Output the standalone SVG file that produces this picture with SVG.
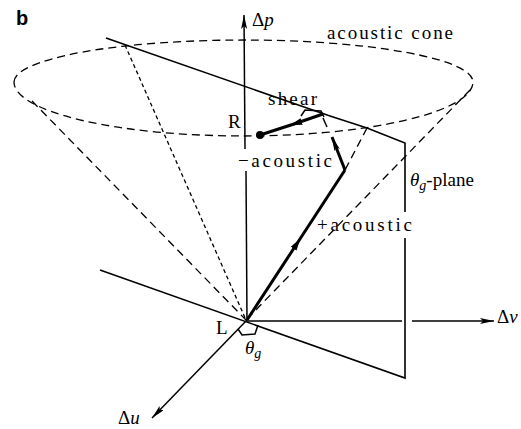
<svg xmlns="http://www.w3.org/2000/svg" width="521" height="429" viewBox="0 0 521 429">
<style>
.ax{stroke:#000;stroke-width:1.5;fill:none}
.pl{stroke:#000;stroke-width:1.6;fill:none}
.th{stroke:#000;stroke-width:3;fill:none}
.da{stroke:#000;stroke-width:1.3;fill:none;stroke-dasharray:8,5}
.dd{stroke:#000;stroke-width:1.3;fill:none;stroke-dasharray:4,3}
text{font-family:"Liberation Serif","DejaVu Serif",serif;fill:#000}
.lb{font-size:19px}
.it{font-style:italic}
</style>
<defs>
<marker id="ah" viewBox="0 0 14 6" refX="14" refY="3" markerUnits="userSpaceOnUse" markerWidth="14" markerHeight="6" orient="auto">
<path d="M0,0 L14,3 L0,6 L3,3 z" fill="#000"/>
</marker>
<marker id="am" viewBox="0 0 12 7" refX="8" refY="3.5" markerUnits="userSpaceOnUse" markerWidth="12" markerHeight="7" orient="auto">
<path d="M0,0 L12,3.5 L0,7 z" fill="#000"/>
</marker>
</defs>

<g id="cone">
<path class="da" d="M14,82 A229.5,42 0 0 1 473,82 A229.5,54 0 0 1 14,82 Z"/>
<line class="da" x1="32" y1="101" x2="246" y2="320"/>
<line class="dd" x1="125" y1="45" x2="246" y2="320"/>
<line class="da" x1="470" y1="90" x2="246" y2="320"/>
<line class="da" x1="367" y1="128" x2="345" y2="170"/>
</g>

<g id="plane">
<polyline class="pl" points="106,38 330,116 367,128 405,143 405,212"/>
<polyline class="pl" points="405,238 405,378 100,270"/>
</g>

<g id="axes">
<line class="ax" x1="245" y1="149" x2="244" y2="15" marker-end="url(#ah)"/>
<line class="ax" x1="247" y1="320" x2="246" y2="171"/>
<line class="ax" x1="247" y1="321" x2="402" y2="321"/>
<line class="ax" x1="412" y1="321" x2="494" y2="321" marker-end="url(#ah)"/>
<line class="ax" x1="247" y1="320" x2="152" y2="418" marker-end="url(#ah)"/>
</g>

<g id="vectors">
<polyline class="th" points="247,320 298,242 345,170" marker-mid="url(#am)"/>
<line class="th" x1="345" y1="170" x2="332" y2="137" marker-end="url(#ah)"/>
<polyline class="th" points="323,114 294,124 260,135" marker-mid="url(#am)"/>
<circle cx="260" cy="135" r="4" fill="#000"/>
<path class="ax" d="M301,116 L305,110 L321,111 L324,117 M323,118 L327,127"/>
<path class="ax" d="M238,329 L242,335 L255,334 L258,325"/>
</g>

<g id="labels">
<text x="16" y="25" style="font-family:'Liberation Sans',Arial,sans-serif;font-weight:bold;font-size:20px">b</text>
<text x="252" y="26" class="lb">Δ<tspan class="it">p</tspan></text>
<text x="327" y="39" class="lb" textLength="126" lengthAdjust="spacing">acoustic cone</text>
<text x="268" y="105" class="lb" textLength="49" lengthAdjust="spacing">shear</text>
<text x="228" y="128" class="lb">R</text>
<text x="238" y="167" class="lb" textLength="94" lengthAdjust="spacing">−acoustic</text>
<text x="317" y="231" class="lb" textLength="95" lengthAdjust="spacing">+acoustic</text>
<text x="410" y="186" class="lb"><tspan class="it">θ</tspan><tspan class="it" font-size="14" dy="4">g</tspan><tspan dy="-4">-plane</tspan></text>
<text x="497" y="323" class="lb">Δ<tspan class="it">v</tspan></text>
<text x="216" y="334" class="lb">L</text>
<text x="245" y="354" class="lb"><tspan class="it">θ</tspan><tspan class="it" font-size="14" dy="4">g</tspan></text>
<text x="118" y="424" class="lb">Δ<tspan class="it">u</tspan></text>
</g>
</svg>
